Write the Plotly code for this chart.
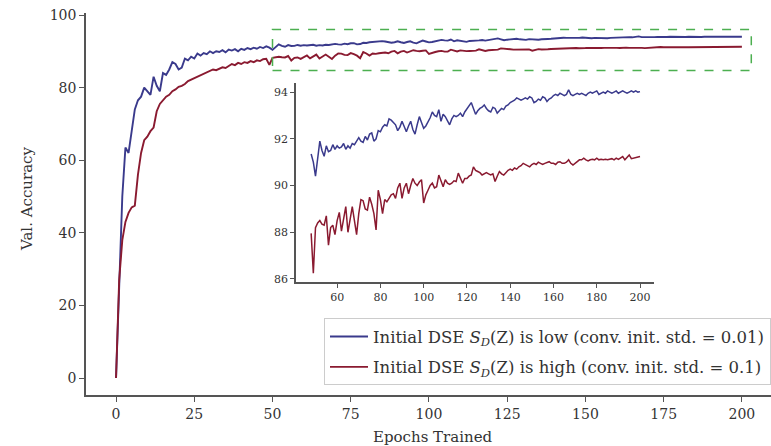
import plotly.graph_objects as go

epochs = list(range(0, 201))

acc_low = [
    0.0, 28.0, 50.0, 63.5, 62.0, 68.0, 74.0, 76.5, 77.5, 80.0,
    79.0, 78.0, 83.0, 80.5, 79.0, 84.0, 83.5, 85.0, 87.0, 86.5,
    85.0, 85.5, 88.0, 87.5, 88.5, 88.0, 89.4, 88.8, 89.5, 89.2,
    90.0, 89.5, 90.0, 89.8, 90.3, 89.7, 90.5, 90.2, 90.6, 90.0,
    90.7, 90.4, 90.9, 90.6, 91.0, 90.7, 91.2, 90.9, 91.35, 91.0,
    90.4, 91.2, 91.9, 91.5, 91.25, 91.7, 91.45, 91.5, 91.75, 91.55,
    91.7, 91.6, 91.65, 91.8, 91.55, 91.7, 91.6, 91.8, 91.75, 91.9,
    92.05, 91.9, 91.85, 92.1, 91.95, 92.2, 92.25, 91.9, 92.0, 92.35,
    92.3, 92.5, 92.6, 92.55, 92.85, 92.8, 92.7, 92.6, 92.35, 92.5,
    92.75, 92.5, 92.3, 92.55, 92.75, 92.4, 92.2, 92.6, 92.95, 92.7,
    92.45, 92.55, 92.7, 92.9, 93.15, 93.0, 92.95, 93.25, 92.75, 93.05,
    92.95, 92.8, 92.6, 92.85, 93.0, 92.95, 93.0, 93.1, 92.95, 93.15,
    93.3, 93.4, 93.55, 93.3, 93.05, 93.2, 93.3, 93.35, 93.45, 93.3,
    93.2, 93.15, 93.35, 93.3, 93.1, 93.2, 93.3, 93.25, 93.4, 93.45,
    93.55, 93.6, 93.65, 93.75, 93.7, 93.65, 93.7, 93.75, 93.7, 93.8,
    93.75, 93.55, 93.6, 93.7, 93.65, 93.8, 93.75, 93.6, 93.7, 93.75,
    93.85, 93.9, 93.85, 93.95, 93.9, 93.85, 93.9, 94.1, 93.9, 93.85,
    93.9, 93.95, 93.9, 93.95, 93.9, 93.85, 93.95, 94.0, 93.95, 94.0,
    94.05, 93.9, 93.95, 94.0, 93.95, 94.05, 94.0, 93.95, 94.0, 94.05,
    93.95, 94.0, 94.05, 94.0, 93.95, 94.0, 94.05, 94.0, 94.05, 94.0,
    94.02,
]

acc_high = [
    0.0, 27.0, 38.0, 43.0, 45.5, 47.0, 47.5, 56.0, 62.0, 65.5,
    66.5, 68.0, 69.0, 73.5, 75.5, 76.5, 77.5, 78.0, 79.0, 79.5,
    80.2, 80.5, 81.0, 81.8, 82.2, 82.5, 83.0, 83.5, 83.8, 84.2,
    84.5, 85.0, 84.8, 85.3, 85.6, 85.4, 86.0, 86.5, 86.2, 86.8,
    86.5, 87.0, 86.8, 87.3, 87.0, 87.5, 87.3, 87.8, 87.95, 86.25,
    88.2, 88.4, 88.5, 88.35, 88.3, 88.7, 87.45, 88.2, 88.3, 87.9,
    88.5, 88.85, 88.05, 88.6, 89.1, 88.0, 88.6, 89.1, 88.5, 87.9,
    88.8, 89.4, 89.35, 89.0, 88.95, 89.5, 89.2, 88.8, 88.1, 89.8,
    89.4, 88.8, 89.4, 89.3, 89.45, 89.6, 89.65, 89.45, 89.9, 90.1,
    89.45, 89.9, 90.1, 89.65, 90.0, 90.3, 90.1, 90.0, 90.15, 90.25,
    89.25, 89.6, 89.8, 90.0, 90.1, 89.9, 89.95, 90.45, 90.2, 89.95,
    90.25, 90.1, 90.05, 90.1, 90.2, 90.17, 90.53, 90.3, 90.1, 90.3,
    90.3, 90.4, 90.45, 90.8, 90.65, 90.6, 90.55, 90.45, 90.5, 90.55,
    90.5, 90.45, 90.5, 90.17, 90.4, 90.6, 90.5, 90.45, 90.55, 90.65,
    90.7, 90.65, 90.75, 90.7, 90.8, 90.85, 90.95, 90.9, 90.85, 90.8,
    90.9, 90.95, 90.9, 91.0, 90.95, 90.9, 90.95, 91.0, 91.02, 90.95,
    90.95, 90.9, 91.0, 91.02, 90.95, 90.95, 91.0, 91.1, 90.95, 90.88,
    90.95, 91.05, 91.1, 91.1, 91.17, 91.1, 91.05, 91.1, 91.12, 91.1,
    91.17, 91.1, 91.12, 91.1, 91.12, 91.1, 91.12, 91.15, 91.1, 91.17,
    91.12, 91.2, 91.24, 91.1, 91.2, 91.31, 91.15, 91.17, 91.2, 91.22,
    91.24,
]

inset_start = 48
series_names = [
    "Initial DSE <i>S</i><sub><i>D</i></sub>(Z) is low (conv. init. std. = 0.01)",
    "Initial DSE <i>S</i><sub><i>D</i></sub>(Z) is high (conv. init. std. = 0.1)",
]
main_xticks = [0, 25, 50, 75, 100, 125, 150, 175, 200]
main_yticks = [0, 20, 40, 60, 80, 100]
inset_xticks = [60, 80, 100, 120, 140, 160, 180, 200]
inset_yticks = [86, 88, 90, 92, 94]
zoom_box = dict(x0=50, x1=203, y0=84.7, y1=96.0)

BLUE = "#3a3a8c"
RED = "#8a1a30"
FONT = "DejaVu Serif"
AXC = "#555555"

fig = go.Figure()

for ys, name, col, grp in [(acc_low, series_names[0], BLUE, "a"),
                           (acc_high, series_names[1], RED, "b")]:
    fig.add_trace(go.Scatter(x=epochs, y=ys, mode="lines", name=name,
                             line=dict(color=col, width=1.9),
                             legendgroup=grp, xaxis="x", yaxis="y"))
    fig.add_trace(go.Scatter(x=epochs[inset_start:], y=ys[inset_start:],
                             mode="lines", showlegend=False,
                             line=dict(color=col, width=1.5),
                             legendgroup=grp, xaxis="x2", yaxis="y2"))

axis_common = dict(showgrid=False, zeroline=False, showline=True,
                   linecolor=AXC, linewidth=1.5, ticks="outside",
                   tickcolor=AXC, tickwidth=1.2, mirror=False)

fig.update_layout(
    width=771, height=446,
    margin=dict(l=86, r=0, t=13, b=51),
    paper_bgcolor="white", plot_bgcolor="white",
    font=dict(family=FONT, color="#333333"),
    xaxis=dict(domain=[0, 1], range=[-9.6, 209.3], tickvals=main_xticks,
               ticklen=5, tickfont=dict(size=14, family=FONT), **axis_common),
    yaxis=dict(domain=[0, 1], range=[-4.68, 100.55], tickvals=main_yticks,
               ticklen=5, tickfont=dict(size=14, family=FONT), **axis_common),
    xaxis2=dict(domain=[0.3066, 0.829], range=[41.0, 206.4], anchor="y2",
                tickvals=inset_xticks, ticklen=4,
                tickfont=dict(size=11, family=FONT), **axis_common),
    yaxis2=dict(domain=[0.2958, 0.8168], range=[85.87, 94.39], anchor="x2",
                tickvals=inset_yticks, ticklen=4,
                tickfont=dict(size=11, family=FONT), **axis_common),
    legend=dict(x=1.0, y=0.201, xanchor="right", yanchor="top",
                bgcolor="white", bordercolor="#cccccc", borderwidth=1,
                font=dict(size=16.5, family=FONT, color="#333333"),
                itemwidth=38,
                traceorder="grouped", tracegroupgap=6),
    showlegend=True,
)

fig.add_shape(type="rect", xref="x", yref="y", **zoom_box,
              line=dict(color="#4caf50", width=1.5, dash="dash"),
              fillcolor="rgba(0,0,0,0)")

fig.add_annotation(text="Val. Accuracy", xref="paper", yref="paper",
                   x=-0.0861, y=0.513, xanchor="center", yanchor="middle",
                   showarrow=False, textangle=-90,
                   font=dict(size=15, family=FONT, color="#333333"))
fig.add_annotation(text="Epochs Trained", xref="paper", yref="paper",
                   x=0.5066, y=-0.11, xanchor="center", yanchor="middle",
                   showarrow=False,
                   font=dict(size=15, family=FONT, color="#333333"))

fig.write_html("out.html", config={"displayModeBar": False})
